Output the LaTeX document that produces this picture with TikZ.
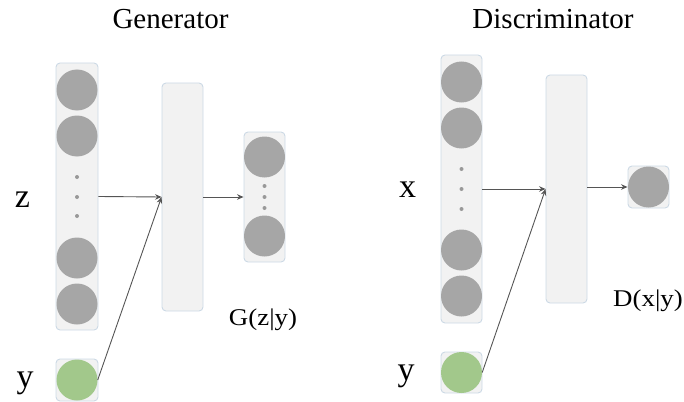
\documentclass[tikz,border=0pt]{standalone}
\usepackage{fontspec}
\setmainfont{Liberation Serif}
\usetikzlibrary{arrows.meta}
\definecolor{boxfill}{HTML}{F2F2F2}
\definecolor{boxline}{HTML}{CCD9E5}
\definecolor{neuroncol}{HTML}{A6A6A6}
\definecolor{cgreen}{HTML}{A2C88B}
\definecolor{arrowc}{HTML}{555555}
\definecolor{dotc}{HTML}{999999}
\tikzset{
  layer/.style={draw=boxline, fill=boxfill, rounded corners=4pt, line width=0.9pt, inner sep=0pt},
  neuron/.style={circle, fill=neuroncol, minimum size=41pt, inner sep=0pt},
  cond/.style={circle, fill=cgreen, minimum size=41pt, inner sep=0pt},
  dotn/.style={circle, fill=dotc, minimum size=4pt, inner sep=0pt},
  conn/.style={draw=arrowc, line width=0.9pt, -{Stealth[length=6.5pt,width=5.5pt]}},
  title/.style={font=\fontsize{29}{32}\selectfont, anchor=base},
  varlab/.style={font=\fontsize{34}{38}\selectfont, anchor=base},
  outlab/.style={font=\fontsize{24}{28}\selectfont, anchor=base, xscale=1.12}
}
\begin{document}
\begin{tikzpicture}[x=1pt,y=-1pt]
\useasboundingbox (0,0) rectangle (684,401);
% ---------- Generator ----------
\node[title] (gt) at (170.5,29) {Generator};
\node[layer, minimum width=42pt, minimum height=267pt] (gin) at (77,196.5) {};
\node[neuron] (gz1) at (77,90) {};
\node[neuron] (gz2) at (77,136) {};
\node[dotn] (gd1) at (77,177) {};
\node[dotn] (gd2) at (77,197) {};
\node[dotn] (gd3) at (77,216) {};
\node[neuron] (gz3) at (77,258) {};
\node[neuron] (gz4) at (77,304) {};
\node[layer, minimum width=42pt, minimum height=42pt] (gy) at (77,380) {};
\node[cond] (gyc) at (77,380) {};
\node[layer, minimum width=41pt, minimum height=228pt] (ghid) at (182.5,197) {};
\node[layer, minimum width=41pt, minimum height=130pt] (gout) at (264.5,197) {};
\node[neuron] (go1) at (264.5,157) {};
\node[dotn] (god1) at (264.5,186) {};
\node[dotn] (god2) at (264.5,197) {};
\node[dotn] (god3) at (264.5,208) {};
\node[neuron] (go2) at (264.5,236) {};
\node[varlab] (zl) at (22.5,207) {z};
\node[varlab] (gyl) at (25,387) {y};
\node[outlab] (gl) at (263,325) {G(z|y)};
\draw[conn] (gin.east) -- (ghid.west);
\draw[conn] (gyc.east) -- (ghid.west);
\draw[conn] (ghid.east) -- (gout.west);
% ---------- Discriminator ----------
\node[title] (dt) at (553,29) {Discriminator};
\node[layer, minimum width=41pt, minimum height=268pt] (din) at (461.5,189) {};
\node[neuron] (dx1) at (461.5,82) {};
\node[neuron] (dx2) at (461.5,128) {};
\node[dotn] (dd1) at (461.5,169) {};
\node[dotn] (dd2) at (461.5,189) {};
\node[dotn] (dd3) at (461.5,209) {};
\node[neuron] (dx3) at (461.5,250) {};
\node[neuron] (dx4) at (461.5,296) {};
\node[layer, minimum width=41pt, minimum height=41pt] (dy) at (461.5,372.5) {};
\node[cond] (dyc) at (461.5,372.5) {};
\node[layer, minimum width=41pt, minimum height=228pt] (dhid) at (566.5,189) {};
\node[layer, minimum width=41pt, minimum height=42pt] (dout) at (648.5,187) {};
\node[neuron] (do1) at (648.5,187) {};
\node[varlab] (xl) at (407.5,197) {x};
\node[varlab] (dyl) at (406,380) {y};
\node[outlab] (dl) at (648,306) {D(x|y)};
\draw[conn] (din.east) -- (dhid.west);
\draw[conn] (dyc.east) -- (dhid.west);
\draw[conn] (dhid.east |- dout.west) -- (dout.west);
\end{tikzpicture}
\end{document}
